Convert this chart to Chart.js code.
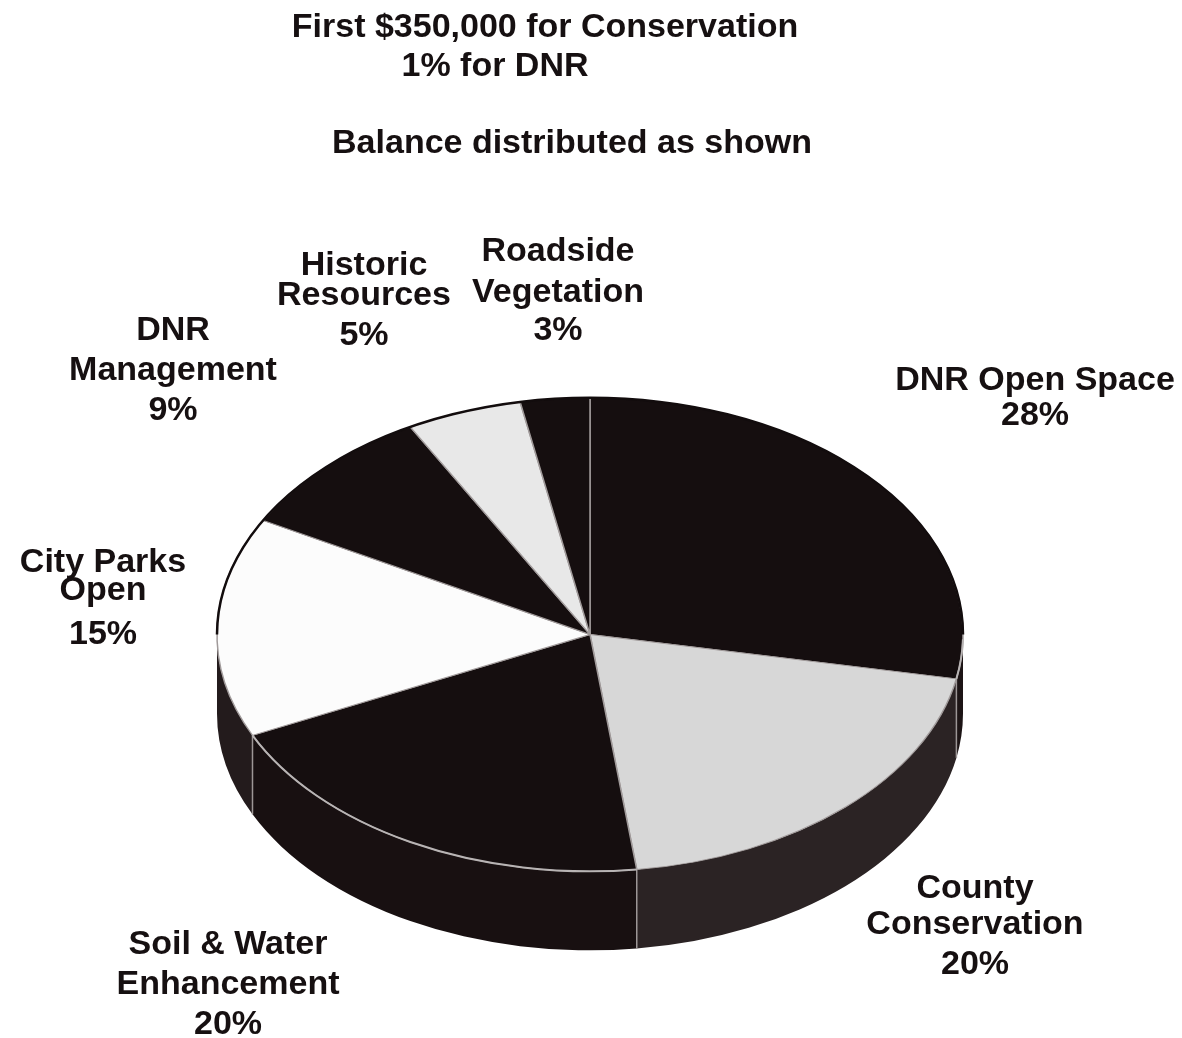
<!DOCTYPE html>
<html>
<head>
<meta charset="utf-8">
<script src="https://cdn.jsdelivr.net/npm/chart.js@4"></script>
<style>
  body { margin: 0; background: #fff; }
  #pie { display: block; }
</style>
</head>
<body>
<canvas id="pie" width="1182" height="1038"></canvas>
<script>
/* donnees du graphique */
const categories = [
  "DNR Open Space",
  "County Conservation",
  "Soil & Water Enhancement",
  "City Parks Open",
  "DNR Management",
  "Historic Resources",
  "Roadside Vegetation",
];
const shares = [28, 20, 20, 15, 9, 5, 3];
const labelLines = [
  ["DNR Open Space"],
  ["County", "Conservation"],
  ["Soil & Water", "Enhancement"],
  ["City Parks", "Open"],
  ["DNR", "Management"],
  ["Historic", "Resources"],
  ["Roadside", "Vegetation"],
];
const titleLines = [
  "First $350,000 for Conservation",
  "1% for DNR",
  "Balance distributed as shown",
];

/* styles */
const topColors = ["#150e0f", "#d7d7d7", "#150e0f", "#fcfcfc", "#150e0f", "#e8e8e8", "#150e0f"];
const sideColors = ["#1c1415", "#2b2324", "#181011", "#231b1c", "#181011", "#181011", "#181011"];
const darkTop = [true, false, true, false, true, false, true];
const tilt = 0.635;
const depth = 79;
const textColor = "#161011";
const labelFont = "bold 34px 'Liberation Sans', Arial, sans-serif";
const titleFont = "bold 34px 'Liberation Sans', Arial, sans-serif";
// x du centre et lignes de base de chaque etiquette
const labelPos = [
  { x: 1035, y: [390, 425] },
  { x: 975, y: [898, 934, 974] },
  { x: 228, y: [954, 994, 1034] },
  { x: 103, y: [572, 600, 644] },
  { x: 173, y: [340, 380, 420] },
  { x: 364, y: [275, 305, 345] },
  { x: 558, y: [261, 302, 340] },
];
const titlePos = [
  { x: 545, y: 37 },
  { x: 495, y: 76 },
  { x: 572, y: 153 },
];

/* plugin : effet 3D (ecrasement vertical + paroi) */
const pie3d = {
  id: "pie3d",
  beforeDatasetsDraw(chart) {
    const ctx = chart.ctx;
    const arcs = chart.getDatasetMeta(0).data;
    const { x, y, outerRadius: R } = arcs[0];
    const ry = R * tilt;
    ctx.save();
    // paroi avant
    arcs.forEach((arc, i) => {
      const a1 = Math.max(arc.startAngle, 0);
      const a2 = Math.min(arc.endAngle, Math.PI);
      if (a2 <= a1) return;
      ctx.beginPath();
      ctx.ellipse(x, y, R, ry, 0, a1, a2);
      ctx.ellipse(x, y + depth, R, ry, 0, a2, a1, true);
      ctx.closePath();
      ctx.fillStyle = sideColors[i];
      ctx.fill();
    });
    // separations verticales
    ctx.strokeStyle = "#9c9696";
    ctx.lineWidth = 1.5;
    arcs.forEach((arc) => {
      const a = arc.endAngle;
      if (a > 0.05 && a < Math.PI - 0.05) {
        const px = x + R * Math.cos(a);
        const py = y + ry * Math.sin(a);
        ctx.beginPath();
        ctx.moveTo(px, py);
        ctx.lineTo(px, py + depth);
        ctx.stroke();
      }
    });
    ctx.restore();
    ctx.save();
    ctx.translate(x, y);
    ctx.scale(1, tilt);
    ctx.translate(-x, -y);
  },
  afterDatasetsDraw(chart) {
    const ctx = chart.ctx;
    ctx.restore();
    const arcs = chart.getDatasetMeta(0).data;
    const { x, y, outerRadius: R } = arcs[0];
    const ry = R * tilt;
    ctx.save();
    // arete avant claire sur les parts sombres
    ctx.strokeStyle = "#b8b4b4";
    ctx.lineWidth = 2;
    arcs.forEach((arc, i) => {
      if (!darkTop[i]) return;
      const a1 = Math.max(arc.startAngle, 0.02);
      const a2 = Math.min(arc.endAngle, Math.PI - 0.02);
      if (a2 <= a1) return;
      ctx.beginPath();
      ctx.ellipse(x, y, R, ry, 0, a1, a2);
      ctx.stroke();
    });
    // contour arriere sombre
    ctx.strokeStyle = "#120c0d";
    ctx.lineWidth = 2.5;
    ctx.beginPath();
    ctx.ellipse(x, y, R, ry, 0, Math.PI, 2 * Math.PI);
    ctx.stroke();
    ctx.restore();
  },
  afterDraw(chart) {
    const ctx = chart.ctx;
    ctx.save();
    ctx.fillStyle = textColor;
    ctx.textAlign = "center";
    ctx.textBaseline = "alphabetic";
    ctx.font = titleFont;
    titleLines.forEach((t, i) => ctx.fillText(t, titlePos[i].x, titlePos[i].y));
    ctx.font = labelFont;
    labelLines.forEach((lines, i) => {
      const all = lines.concat([shares[i] + "%"]);
      all.forEach((t, j) => ctx.fillText(t, labelPos[i].x, labelPos[i].y[j]));
    });
    ctx.restore();
  },
};

const graph = document.getElementById("pie");

new Chart(graph, {
  type: "pie",
  data: {
    labels: categories,
    datasets: [
      {
        data: shares,
        backgroundColor: topColors,
        borderColor: "#a09a9a",
        borderWidth: 1.5,
      },
    ],
  },
  options: {
    responsive: false,
    animation: false,
    radius: 373,
    layout: {
      padding: { left: 217, right: 219, top: 251, bottom: 20 },
    },
    plugins: {
      legend: { display: false },
      tooltip: { enabled: false },
    },
  },
  plugins: [pie3d],
});
</script>
</body>
</html>
